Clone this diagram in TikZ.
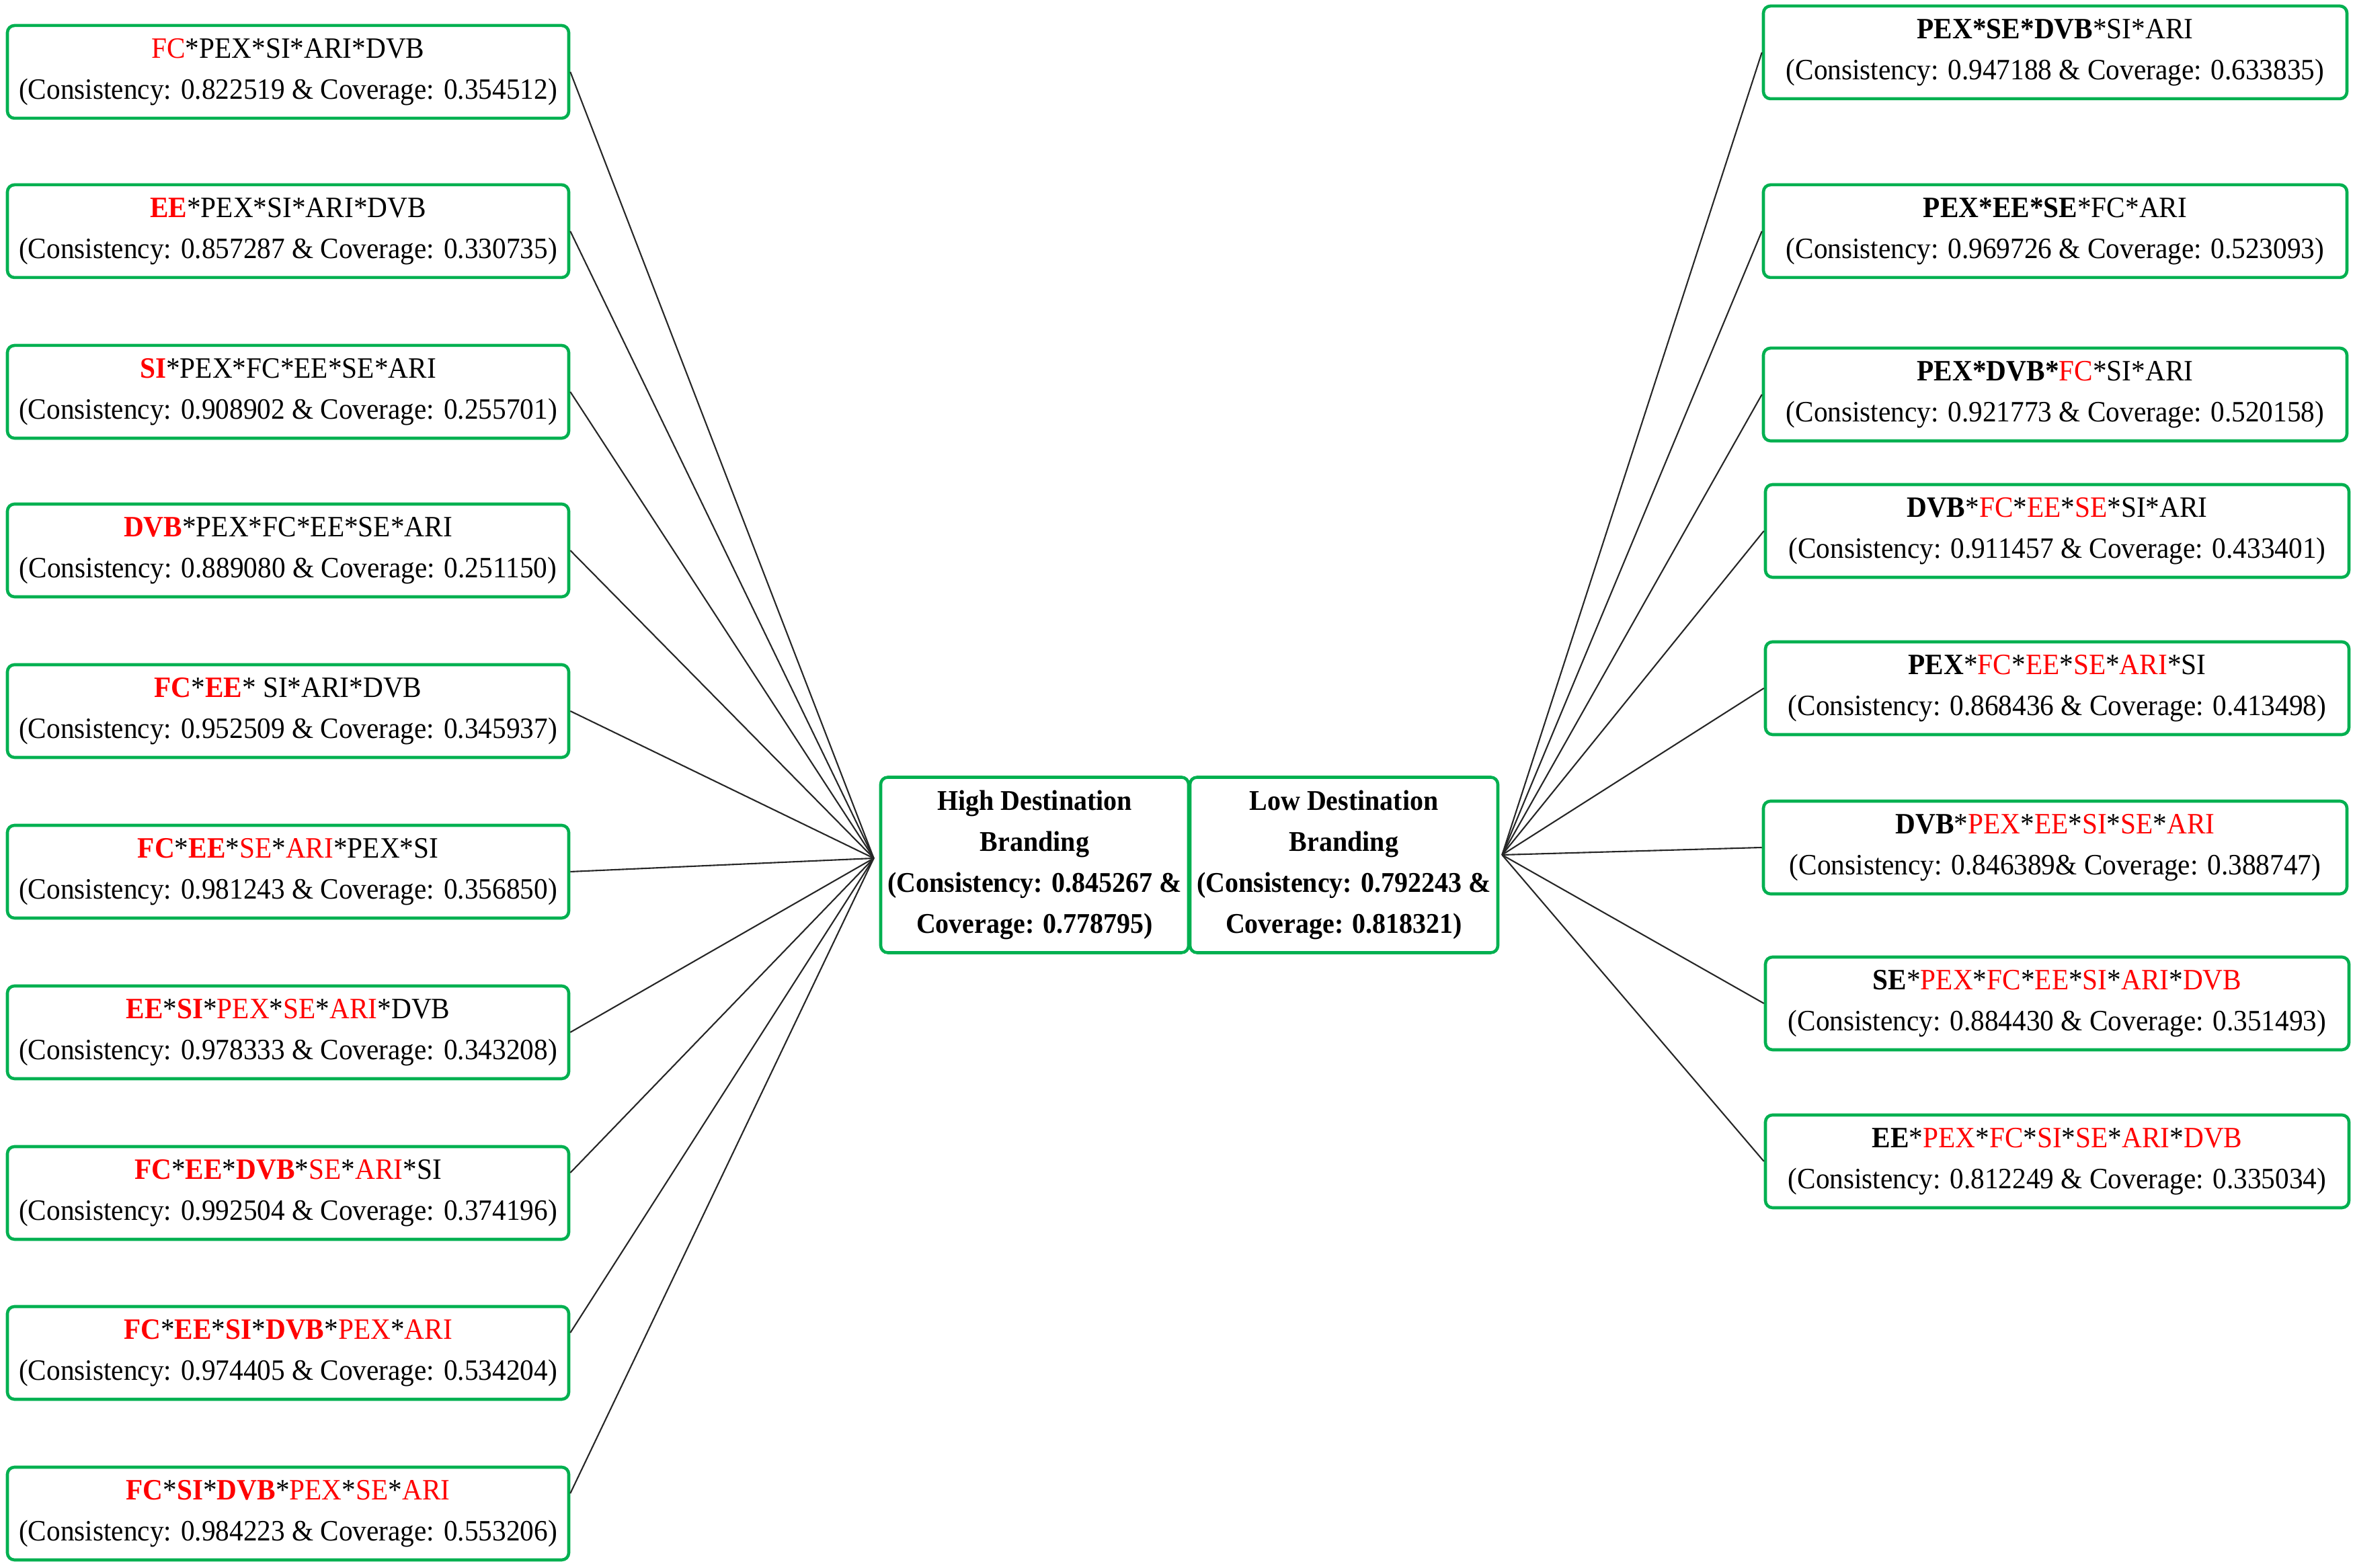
\documentclass[tikz,border=0pt]{standalone}
\usepackage{fontspec}
\setmainfont{Liberation Serif}[FakeStretch=0.94]
\usetikzlibrary{positioning}

\definecolor{boxgreen}{HTML}{00B050}
\definecolor{condred}{HTML}{FF0000}

\newcommand{\corecond}[1]{\textcolor{condred}{\textbf{#1}}}
\newcommand{\pericond}[1]{\textcolor{condred}{#1}}

\tikzset{
  recipe/.style={draw=boxgreen, line width=1.3pt, rounded corners=3pt, align=center,
    inner sep=0pt, minimum width=8.35cm, minimum height=1.38cm,
    font=\fontsize{12.5}{17.5}\selectfont},
  recipeR/.style={recipe, minimum width=8.68cm},
  outcome/.style={recipe, minimum width=4.58cm, minimum height=2.61cm,
    font=\fontsize{12.1}{17.3}\selectfont\bfseries},
  link/.style={draw=black!85, line width=0.6pt}
}

\begin{document}
\begin{tikzpicture}
    \useasboundingbox (0,0) rectangle (35,23.33);

    \node[outcome] (High) at (15.39,10.46){High Destination\\Branding\\(Consistency: 0.845267 \&\\Coverage: 0.778795)};
    \node[outcome] (Low) at (19.99,10.46){Low Destination\\Branding\\(Consistency: 0.792243 \&\\Coverage: 0.818321)};
    \coordinate (hubH) at ([xshift=-0.08cm,yshift=0.1cm]High.west);
    \coordinate (hubL) at ([xshift=0.04cm,yshift=0.15cm]Low.east);

    \node[recipe] (H1) at (4.285,22.26){\pericond{FC}*PEX*SI*ARI*DVB\\(Consistency: 0.822519 \& Coverage: 0.354512)};
    \node[recipe] (H2) at (4.285,19.89){\corecond{EE}*PEX*SI*ARI*DVB\\(Consistency: 0.857287 \& Coverage: 0.330735)};
    \node[recipe] (H3) at (4.285,17.50){\corecond{SI}*PEX*FC*EE*SE*ARI\\(Consistency: 0.908902 \& Coverage: 0.255701)};
    \node[recipe] (H4) at (4.285,15.14){\corecond{DVB}*PEX*FC*EE*SE*ARI\\(Consistency: 0.889080 \& Coverage: 0.251150)};
    \node[recipe] (H5) at (4.285,12.75){\corecond{FC}*\corecond{EE}* SI*ARI*DVB\\(Consistency: 0.952509 \& Coverage: 0.345937)};
    \node[recipe] (H6) at (4.285,10.36){\corecond{FC}*\corecond{EE}*\pericond{SE}*\pericond{ARI}*PEX*SI\\(Consistency: 0.981243 \& Coverage: 0.356850)};
    \node[recipe] (H7) at (4.285,7.97){\corecond{EE}*\corecond{SI}*\pericond{PEX}*\pericond{SE}*\pericond{ARI}*DVB\\(Consistency: 0.978333 \& Coverage: 0.343208)};
    \node[recipe] (H8) at (4.285,5.58){\corecond{FC}*\corecond{EE}*\corecond{DVB}*\pericond{SE}*\pericond{ARI}*SI\\(Consistency: 0.992504 \& Coverage: 0.374196)};
    \node[recipe] (H9) at (4.285,3.20){\corecond{FC}*\corecond{EE}*\corecond{SI}*\corecond{DVB}*\pericond{PEX}*\pericond{ARI}\\(Consistency: 0.974405 \& Coverage: 0.534204)};
    \node[recipe] (H10) at (4.285,0.81){\corecond{FC}*\corecond{SI}*\corecond{DVB}*\pericond{PEX}*\pericond{SE}*\pericond{ARI}\\(Consistency: 0.984223 \& Coverage: 0.553206)};

    \node[recipeR] (L1) at (30.57,22.55){\textbf{PEX*SE*DVB}*SI*ARI\\(Consistency: 0.947188 \& Coverage: 0.633835)};
    \node[recipeR] (L2) at (30.57,19.89){\textbf{PEX*EE*SE}*FC*ARI\\(Consistency: 0.969726 \& Coverage: 0.523093)};
    \node[recipeR] (L3) at (30.57,17.46){\textbf{PEX*DVB*}\pericond{FC}*SI*ARI\\(Consistency: 0.921773 \& Coverage: 0.520158)};
    \node[recipeR] (L4) at (30.60,15.43){\textbf{DVB}*\pericond{FC}*\pericond{EE}*\pericond{SE}*SI*ARI\\(Consistency: 0.911457 \& Coverage: 0.433401)};
    \node[recipeR] (L5) at (30.60,13.09){\textbf{PEX}*\pericond{FC}*\pericond{EE}*\pericond{SE}*\pericond{ARI}*SI\\(Consistency: 0.868436 \& Coverage: 0.413498)};
    \node[recipeR] (L6) at (30.57,10.72){\textbf{DVB}*\pericond{PEX}*\pericond{EE}*\pericond{SI}*\pericond{SE}*\pericond{ARI}\\(Consistency: 0.846389\& Coverage: 0.388747)};
    \node[recipeR] (L7) at (30.60,8.40){\textbf{SE}*\pericond{PEX}*\pericond{FC}*\pericond{EE}*\pericond{SI}*\pericond{ARI}*\pericond{DVB}\\(Consistency: 0.884430 \& Coverage: 0.351493)};
    \node[recipeR] (L8) at (30.60,6.05){\textbf{EE}*\pericond{PEX}*\pericond{FC}*\pericond{SI}*\pericond{SE}*\pericond{ARI}*\pericond{DVB}\\(Consistency: 0.812249 \& Coverage: 0.335034)};

    \draw[link] (H1.east) -- (hubH);
    \draw[link] (H2.east) -- (hubH);
    \draw[link] (H3.east) -- (hubH);
    \draw[link] (H4.east) -- (hubH);
    \draw[link] (H5.east) -- (hubH);
    \draw[link] (H6.east) -- (hubH);
    \draw[link] (H7.east) -- (hubH);
    \draw[link] ([yshift=0.3cm]H8.east) -- (hubH);
    \draw[link] ([yshift=0.3cm]H9.east) -- (hubH);
    \draw[link] ([yshift=0.3cm]H10.east) -- (hubH);

    \draw[link] (hubL) -- (L1.west);
    \draw[link] (hubL) -- (L2.west);
    \draw[link] (hubL) -- (L3.west);
    \draw[link] (hubL) -- (L4.west);
    \draw[link] (hubL) -- (L5.west);
    \draw[link] (hubL) -- (L6.west);
    \draw[link] (hubL) -- (L7.west);
    \draw[link] (hubL) -- (L8.west);
  \end{tikzpicture}
\end{document}
